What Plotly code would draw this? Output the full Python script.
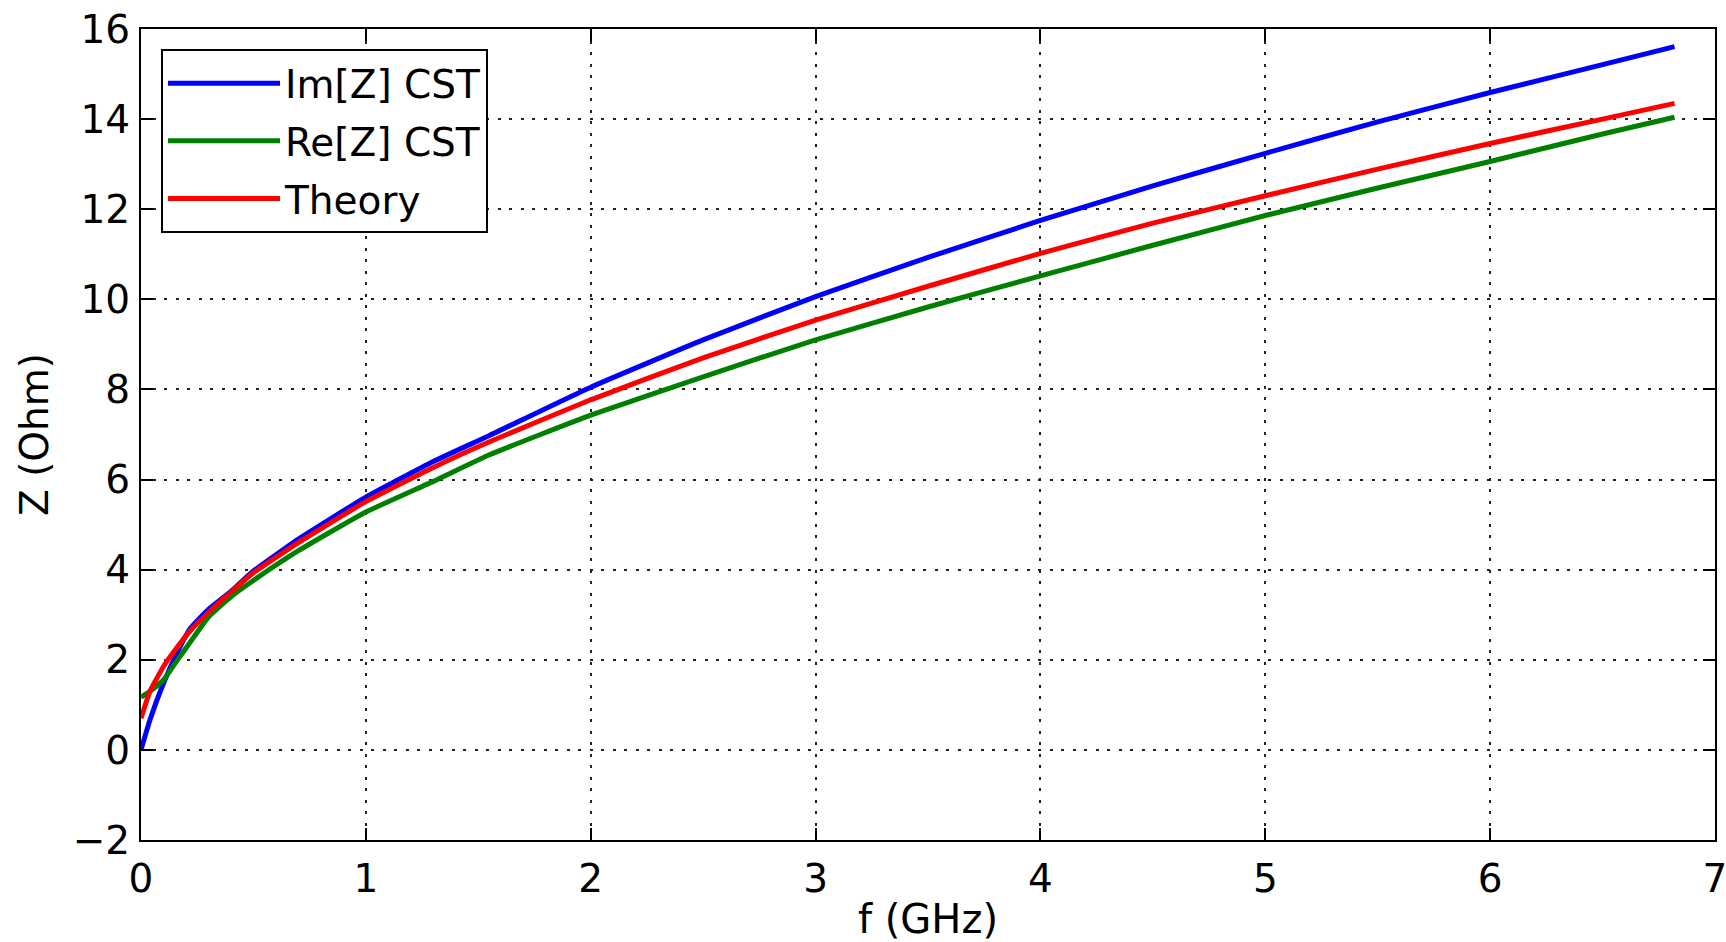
import plotly.graph_objects as go

# Frequency grid (GHz)
freq_ghz = [0, 0.04, 0.1, 0.16, 0.22, 0.3, 0.4, 0.5, 0.7, 1.0, 1.3, 1.55,
            2.0, 2.5, 3.0, 3.5, 4.0, 4.5, 5.0, 5.5, 6.0, 6.5, 6.82]

# Series values (Ohm)
im_z_cst = [0, 0.67, 1.48, 2.15, 2.7, 3.12, 3.52, 3.97, 4.68, 5.61, 6.4, 6.98,
            8.05, 9.1, 10.06, 10.93, 11.75, 12.52, 13.24, 13.94, 14.59, 15.21, 15.61]
re_z_cst = [1.17, 1.3, 1.55, 1.98, 2.4, 2.95, 3.4, 3.76, 4.42, 5.28, 5.96, 6.55,
            7.43, 8.28, 9.1, 9.83, 10.52, 11.2, 11.86, 12.47, 13.06, 13.67, 14.04]
theory = [0.7, 1.3, 1.85, 2.27, 2.65, 3.05, 3.5, 3.93, 4.6, 5.51, 6.27, 6.84,
          7.77, 8.7, 9.54, 10.29, 11.02, 11.69, 12.3, 12.89, 13.46, 14.0, 14.35]

series_names = ["Im[Z] CST", "Re[Z] CST", "Theory"]
series_values = [im_z_cst, re_z_cst, theory]
series_colors = ["#0000ff", "#008000", "#ff0000"]

x_ticks = [0, 1, 2, 3, 4, 5, 6, 7]
y_ticks = [-2, 0, 2, 4, 6, 8, 10, 12, 14, 16]

FONT = "DejaVu Sans"
FS = 39

fig = go.Figure()
for name, vals, col in zip(series_names, series_values, series_colors):
    fig.add_trace(go.Scatter(x=freq_ghz, y=vals, name=name, mode="lines",
                             legendgroup=name,
                             line=dict(color=col, width=5, shape="spline", smoothing=0.4)))

axis_common = dict(
    showline=True, linecolor="black", linewidth=2, mirror="ticks",
    ticks="inside", ticklen=12, tickwidth=1.5, tickcolor="black",
    showgrid=True, gridcolor="#222222", gridwidth=1.6, griddash="3px,8.5px",
    zeroline=False, ticklabeloverflow="allow",
    tickfont=dict(family=FONT, size=FS, color="black"),
)

fig.update_layout(
    width=1726, height=942,
    margin=dict(l=141, r=11, t=29, b=102),
    paper_bgcolor="white", plot_bgcolor="white",
    font=dict(family=FONT, size=FS, color="black"),
    xaxis=dict(range=[0, 7], tickvals=x_ticks, ticktext=[str(v) for v in x_ticks],
               ticklabelstandoff=3, automargin="top",
               title=dict(text="f (GHz)", font=dict(family=FONT, size=40), standoff=8),
               **axis_common),
    yaxis=dict(range=[-2, 16], tickvals=y_ticks,
               ticktext=[("\u2212" + str(-v)) if v < 0 else str(v) for v in y_ticks],
               ticklabelstandoff=1, automargin=False,
               title=dict(text="Z (Ohm)", font=dict(family=FONT, size=FS), standoff=12),
               **axis_common),
    legend=dict(x=0.0127, y=0.975, xanchor="left", yanchor="top",
                bgcolor="white", bordercolor="black", borderwidth=2,
                font=dict(family=FONT, size=FS, color="black"),
                itemwidth=112, tracegroupgap=4),
    showlegend=True,
)

fig.write_html("out.html", config={"displayModeBar": False},
               post_script="document.body.style.margin='0';")
